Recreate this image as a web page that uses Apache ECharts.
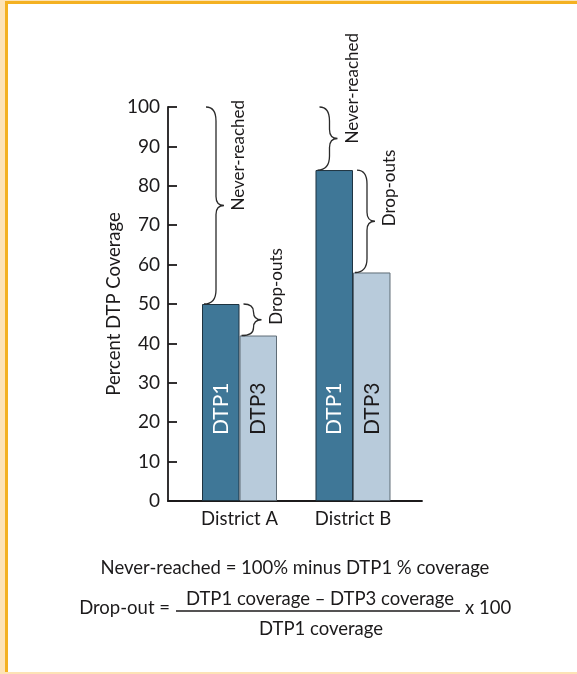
<!DOCTYPE html>
<html>
<head>
<meta charset="utf-8">
<script src="https://cdn.jsdelivr.net/npm/echarts@6/dist/echarts.min.js"></script>
<style>
  html, body { margin: 0; padding: 0; background: #ffffff; }
  #frame { position: absolute; left: 0; top: 0; width: 577px; height: 674px; background: #fde3b6; }
  #inner { position: absolute; left: 5px; top: 1px; width: 572px; height: 671px; box-sizing: border-box;
           background: #ffffff; border-left: 3px solid #f4b122; border-top: 3px solid #f4b122; }
  #chart { position: absolute; left: 0; top: 0; width: 577px; height: 674px; }
</style>
</head>
<body>
<div id="frame"><div id="inner"></div></div>
<div id="chart"></div>
<script>
// ---- data ----
const categories = ['District A', 'District B'];
const dtp1 = [50, 84];
const dtp3 = [42, 58];
const fullCoverage = 100;
const seriesNames = ['DTP1', 'DTP3'];
const yTicks = [0, 10, 20, 30, 40, 50, 60, 70, 80, 90, 100];
const braceLabels = ['Never-reached', 'Drop-outs'];
const formulaLine1 = 'Never-reached = 100% minus DTP1 % coverage';
const formulaLeft = 'Drop-out =';
const formulaNumerator = 'DTP1 coverage \u2013 DTP3 coverage';
const formulaDenominator = 'DTP1 coverage';
const formulaRight = 'x 100';

// ---- style ----
const FONT = 'Lato, "DejaVu Sans", sans-serif';
const INK = '#1c1a1b';
const BAR_W = 37.5;

const chart = echarts.init(document.getElementById('chart'), null, { renderer: 'canvas' });

// brace data built from the values: [categoryIndex, top, bottom, barSide]
const neverReached = categories.map((c, i) => [i, fullCoverage, dtp1[i], 0]);
const dropOuts = categories.map((c, i) => [i, dtp1[i], dtp3[i], 1]);

function braceRender(labelText) {
  return function (params, api) {
    const i = api.value(0);
    const top = api.value(1);
    const bottom = api.value(2);
    const side = api.value(3);
    const cx = api.coord([i, 0])[0];
    const barLeft = side === 0 ? cx - BAR_W : cx;
    const yT = api.coord([i, top])[1];
    const yB = api.coord([i, bottom])[1];
    const yM = (yT + yB) / 2;
    const h = yB - yT;
    const x0 = barLeft + 4;
    const xv = x0 + 10;
    const tip = xv + 8;
    const r = Math.min(14, h / 4);
    const r2 = Math.min(9, h / 4);
    const d = [
      'M', x0, yT,
      'Q', xv, yT, xv, yT + r,
      'L', xv, yM - r2,
      'Q', xv, yM, tip, yM,
      'Q', xv, yM, xv, yM + r2,
      'L', xv, yB - r,
      'Q', xv, yB, x0 - 2, yB
    ].join(' ');
    return {
      type: 'group',
      children: [
        { type: 'path', shape: { pathData: d },
          style: { fill: 'none', stroke: '#2a2a2a', lineWidth: 1.3 } },
        { type: 'text', x: tip + 15, y: yM + 5, rotation: Math.PI / 2,
          style: { text: labelText, fontSize: 17, fontFamily: FONT, fill: INK,
                   align: 'left', verticalAlign: 'middle' } }
      ]
    };
  };
}

const option = {
  animation: false,
  backgroundColor: 'transparent',
  grid: { left: 168, right: 155, top: 107, bottom: 173 },
  xAxis: {
    type: 'value',
    min: -0.63,
    max: 1.608,
    splitLine: { show: false },
    axisTick: { show: false },
    axisLine: { show: true, onZero: false, lineStyle: { color: INK, width: 1.8 } },
    axisLabel: {
      customValues: categories.map((c, i) => i),
      formatter: v => categories[Math.round(v)] || '',
      fontSize: 18.5, fontFamily: FONT, color: INK, margin: 9
    }
  },
  yAxis: {
    type: 'value',
    min: 0, max: 100, interval: 10,
    name: 'Percent DTP Coverage',
    nameLocation: 'middle',
    nameRotate: 90,
    nameGap: 39,
    nameTextStyle: { fontSize: 18.5, fontFamily: FONT, color: INK },
    splitLine: { show: false },
    axisLine: { show: true, onZero: false, lineStyle: { color: INK, width: 1.8 } },
    axisTick: { show: true, inside: true, length: 9, lineStyle: { color: INK, width: 1.8 } },
    axisLabel: {
      fontSize: 19, fontFamily: FONT, color: INK, margin: 8,
      formatter: v => (yTicks.indexOf(v) >= 0 ? String(v) : '')
    }
  },
  series: [
    {
      name: seriesNames[0], type: 'bar', barWidth: BAR_W, barGap: '0%',
      data: categories.map((c, i) => [i, dtp1[i]]),
      itemStyle: { color: '#3f7797', borderColor: '#1e3340', borderWidth: 1 },
      label: { show: true, formatter: seriesNames[0], position: 'insideBottom', distance: 66,
               rotate: 90, align: 'left', verticalAlign: 'middle',
               fontSize: 21, fontFamily: FONT, color: '#ffffff' }
    },
    {
      name: seriesNames[1], type: 'bar', barWidth: BAR_W, barGap: '0%',
      data: categories.map((c, i) => [i, dtp3[i]]),
      itemStyle: { color: '#b8cbdb', borderColor: '#5f6c76', borderWidth: 1 },
      label: { show: true, formatter: seriesNames[1], position: 'insideBottom', distance: 66,
               rotate: 90, align: 'left', verticalAlign: 'middle',
               fontSize: 21, fontFamily: FONT, color: INK }
    },
    { type: 'custom', name: braceLabels[0], data: neverReached, renderItem: braceRender(braceLabels[0]), z: 5, silent: true },
    { type: 'custom', name: braceLabels[1], data: dropOuts, renderItem: braceRender(braceLabels[1]), z: 5, silent: true }
  ],
  graphic: [
    { type: 'text', x: 295, y: 568,
      style: { text: formulaLine1, fontSize: 18.5, fontFamily: FONT, fill: INK, align: 'center', verticalAlign: 'middle' } },
    { type: 'text', x: 170, y: 608,
      style: { text: formulaLeft, fontSize: 18.5, fontFamily: FONT, fill: INK, align: 'right', verticalAlign: 'middle' } },
    { type: 'text', x: 320, y: 599,
      style: { text: formulaNumerator, fontSize: 18.5, fontFamily: FONT, fill: INK, align: 'center', verticalAlign: 'middle' } },
    { type: 'line', shape: { x1: 176, y1: 611, x2: 460, y2: 611 }, style: { stroke: INK, lineWidth: 1.6 } },
    { type: 'text', x: 321, y: 629,
      style: { text: formulaDenominator, fontSize: 18.5, fontFamily: FONT, fill: INK, align: 'center', verticalAlign: 'middle' } },
    { type: 'text', x: 465, y: 608,
      style: { text: formulaRight, fontSize: 18.5, fontFamily: FONT, fill: INK, align: 'left', verticalAlign: 'middle' } }
  ]
};
chart.setOption(option);
</script>
</body>
</html>
